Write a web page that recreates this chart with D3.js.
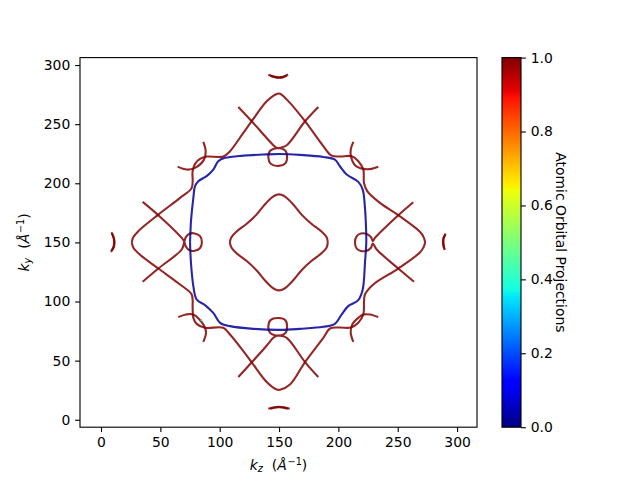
<!DOCTYPE html>
<html>
<head>
<meta charset="utf-8">
<script src="https://cdnjs.cloudflare.com/ajax/libs/d3/7.8.5/d3.min.js"></script>
<style>
  body { margin: 0; background: #fff; }
  text { font-family: "DejaVu Sans", sans-serif; fill: #000; }
</style>
</head>
<body>
<div class="js-chart"></div>
<script>
// tick labels
var xTicks = [0, 50, 100, 150, 200, 250, 300];
var yTicks = [0, 50, 100, 150, 200, 250, 300];
var cTicks = [0, 0.2, 0.4, 0.6, 0.8, 1];

// jet colormap stops
var jetStops = [0, 0.11, 0.125, 0.34, 0.35, 0.375, 0.64, 0.65, 0.66, 0.89, 0.91, 1];
var jetColors = ['#000080', '#0000ff', '#0000ff', '#00dbff', '#00e5f7', '#14ffe2', '#eeff08',
  '#f7f500', '#ffec00', '#ff1400', '#e80000', '#800000'];

// curves, [kz, ky]
var blueSquare = [
  [75,150],[75.4,160],[75.8,168],[77.8,187.7],[79.2,197.5],[82,201.8],[89,206],[94.6,211.6],[98.8,218.7],
  [104.5,221.5],[119.9,223.4],[136.7,224.3],[150.8,224.8],[167.7,224],[187.3,222.3],[197.1,220],[201.3,214.4],
  [207,207.4],[216.8,201.2],[220.5,194.7],[222.4,179.2],[223.3,162.3],[223.5,150],[222.4,132.7],[220.5,110.1],
  [216.8,101.2],[208.3,96.1],[202.7,89],[197.1,81.1],[187.3,78.6],[167.7,76.9],[150.8,76],[128.3,76.9],
  [108.7,79.2],[100.3,82],[94.6,90.4],[87.6,97],[80.6,101.7],[77.8,113],[75.8,132.7],[75,150]
];
var innerDiamond = [
  [108.5,150],[110,154.5],[114,159],[123,166],[131,173.5],[138,182],[144,188],[148,190.3],[150,190.6],
  [152,190.3],[156,188],[162,182],[169,173.5],[177,166],[186,159],[190,154.5],[191,150],[190,145.5],
  [186,141],[177,134],[169,126.5],[162,118],[156,112],[152,109.7],[150,109.4],[148,109.7],[144,112],
  [138,118],[131,126.5],[123,134],[114,141],[110,145.5],[108.5,150]
];
var outerCurve = [
  [25.9,150],[27.3,154.5],[31.4,159.5],[48.3,173.5],[66.6,187.7],[76.4,196.1],[77.2,210.2],[79.2,216.4],
  [83.4,220.6],[89,222.6],[103,222.6],[108.7,227.1],[119.9,242.6],[127,252.5],[139.6,269.3],[148,275.6],
  [150.8,275.8],[159.2,268],[171.9,252.5],[187.3,231.4],[194.3,223.4],[201.3,222.6],[211.2,222.9],[216.8,218.7],
  [221,211.6],[221.6,200.3],[224.3,193.3],[235,183.4],[250.5,173],[268.7,159],[271.8,154.5],[273,150],
  [271.8,146],[268.7,141.5],[250.5,127.9],[229.4,114.4],[222.4,105.9],[221.6,100.3],[221,89],[216.8,82],
  [210.4,78],[201.3,78],[192.9,77.2],[187.3,69.3],[171.9,48.8],[159.2,29.8],[150.8,25.4],[148,25.6],
  [139.6,31.9],[127,48.6],[119.9,58.1],[108.7,72.1],[103,77.8],[87.6,77.8],[80.6,81.1],[77.8,86.2],
  [77.2,94.7],[76.4,105.9],[66.6,114.4],[48.3,127.9],[32.9,139.5],[27.3,145.5],[25.9,150]
];
var topLoop = [
  [115.7,264.6],[127,252.5],[139,239],[145.2,232.2],[148,230],[152,229.5],[155.5,227.5],[156.8,222.5],
  [155.5,217],[149.5,214.7],[143,216.5],[141,222],[142.5,227.5],[146.5,229.5],[151,230],[156.5,232.2],
  [171.9,252.5],[183.1,264.6]
];
var bottomLoop = [
  [115.7,36.1],[127,48.6],[139,62],[145.2,69.3],[148,71],[152,71.5],[155.5,73.5],[156.8,78.5],
  [155.5,84],[149.5,86],[143,84.5],[141,79],[142.5,73.5],[146.5,71.5],[151,71],[156.5,69.3],
  [171.9,48.8],[183.1,36.1]
];
var leftLoop = [
  [35.1,184.3],[48.3,173],[68,153.8],[70,151],[71.5,146.5],[74.5,143.3],[79,143],[83.5,145.3],[85,150.3],
  [83.5,155.3],[79,157.6],[74.5,157.3],[71.5,154.5],[70,149.8],[68,144],[48.3,127.9],[35.1,116.7]
];
var rightLoop = [
  [263.1,184],[250.5,173],[230.8,153.8],[229,151],[227.5,154.5],[223.5,157.3],[219,157.5],[215.5,155.3],[214,150],
  [215.5,144.8],[219,142.8],[223.5,142.8],[227.5,145.5],[229,149],[232.3,144],[250.5,127.9],[263.7,116.7]
];
var arcTopLeft = [[86.2,235],[88.2,227.1],[86.8,220],[79.2,213],[72.2,211.6],[64.6,214.1]];
var arcTopRight = [[212.6,235],[210.4,228.5],[210.6,222.9],[214,215.3],[221,212.2],[228,212.2],[233.6,213.9]];
var arcBottomLeft = [[86.2,65.9],[88.5,73.5],[86.8,79.7],[77.8,89],[71.6,89],[65.1,86.8]];
var arcBottomRight = [[212.6,65.9],[210.4,73.5],[211.7,80.6],[216.8,86.2],[221,89],[226.6,89],[233.6,86.8]];
var tipTopA = [[141,291.8],[146.6,290],[150,289.6],[153.4,290],[157.6,292]];
var tipTopB = [[142.5,291],[146.6,289.6],[150,289.2],[153.4,289.6],[156.5,291]];
var tipBottomA = [[141,9.3],[146,10.6],[150,11],[154,10.6],[159,9.3]];
var tipBottomB = [[142.5,9.2],[146,10.2],[150,10.6],[154,10.2],[157.5,9.2]];
var tipLeftA = [[8.8,158.6],[10.6,154],[11,149.6],[10.4,146],[8.4,142]];
var tipLeftB = [[9.2,157.6],[11,153],[11.4,149.6],[10.8,146],[9,143]];
var tipRightA = [[290.4,157.5],[288.8,154],[288.5,150.7],[288.9,147],[289.6,143.5]];
var tipRightB = [[290,156.5],[288.4,153],[288.1,150.7],[288.5,147],[289.2,144.5]];
var speck = [[84.4,84.8],[85.2,83.6]];

var curves = [
  { points: outerCurve, value: 1 }, { points: innerDiamond, value: 1 },
  { points: topLoop, value: 1 }, { points: bottomLoop, value: 1 },
  { points: leftLoop, value: 1 }, { points: rightLoop, value: 1 },
  { points: arcTopLeft, value: 1 }, { points: arcTopRight, value: 1 },
  { points: arcBottomLeft, value: 1 }, { points: arcBottomRight, value: 1 },
  { points: tipTopA, value: 1 }, { points: tipTopB, value: 1 },
  { points: tipBottomA, value: 1 }, { points: tipBottomB, value: 1 },
  { points: tipLeftA, value: 1 }, { points: tipLeftB, value: 1 },
  { points: tipRightA, value: 1 }, { points: tipRightB, value: 1 },
  { points: blueSquare, value: 0.02 }, { points: speck, value: 0.42 }
];

var left = 80, right = 477, top_ = 57.6, bottom = 427.2;
var barLeft = 502, barRight = 521;
var fontSize = 13.9, tickLen = 4.86;

var svg = d3.select('.js-chart').append('svg')
  .attr('width', 640)
  .attr('height', 480)
  .style('display', 'block');

var x = d3.scaleLinear().domain([-17.7, 316.8]).range([left, right]);
var y = d3.scaleLinear().domain([-6.3, 306.3]).range([bottom, top_]);
var c = d3.scaleLinear().domain([0, 1]).range([bottom, top_]);
var jet = d3.scaleLinear().domain(jetStops).range(jetColors);

var line = d3.line()
  .x(function(d) { return x(d[0]); })
  .y(function(d) { return y(d[1]); })
  .curve(d3.curveCatmullRom.alpha(0.5));

svg.selectAll('path.curve')
  .data(curves)
  .enter()
  .append('path')
  .classed('curve', true)
  .attr('d', function(d) { return line(d.points); })
  .attr('fill', 'none')
  .attr('stroke', function(d) { return jet(d.value); })
  .attr('stroke-opacity', 0.85)
  .attr('stroke-width', 2.1);

function styleAxis(g) {
  g.selectAll('.domain').remove();
  g.selectAll('line').attr('stroke', '#000').attr('stroke-width', 1.11);
  g.selectAll('text').style('font-size', fontSize + 'px').attr('fill', '#000');
}

svg.append('g')
  .attr('transform', 'translate(0,' + bottom + ')')
  .call(d3.axisBottom(x).tickValues(xTicks).tickSize(tickLen).tickPadding(4.86))
  .call(styleAxis);

svg.append('g')
  .attr('transform', 'translate(' + left + ',0)')
  .call(d3.axisLeft(y).tickValues(yTicks).tickSize(tickLen).tickPadding(4.86))
  .call(styleAxis);

svg.append('rect')
  .attr('x', left)
  .attr('y', top_)
  .attr('width', right - left)
  .attr('height', bottom - top_)
  .attr('fill', 'none')
  .attr('stroke', '#000')
  .attr('stroke-width', 1.11);

// colorbar
var defs = svg.append('defs');
var gradient = defs.append('linearGradient')
  .attr('id', 'jet')
  .attr('x1', 0).attr('y1', 1)
  .attr('x2', 0).attr('y2', 0);

gradient.selectAll('stop')
  .data(jetStops)
  .enter()
  .append('stop')
  .attr('offset', function(d) { return d; })
  .attr('stop-color', function(d, i) { return jetColors[i]; });

svg.append('rect')
  .attr('x', barLeft)
  .attr('y', top_)
  .attr('width', barRight - barLeft)
  .attr('height', bottom - top_)
  .attr('fill', 'url(#jet)')
  .attr('stroke', '#000')
  .attr('stroke-width', 1.11);

svg.append('g')
  .attr('transform', 'translate(' + barRight + ',0)')
  .call(d3.axisRight(c).tickValues(cTicks).tickFormat(d3.format('.1f')).tickSize(tickLen).tickPadding(4.86))
  .call(styleAxis);

// axis labels
function mathLabel(sel, sub) {
  sel.append('tspan').attr('font-style', 'italic').text('k');
  sel.append('tspan').attr('font-style', 'italic').attr('font-size', 9.7).attr('dy', 2).text(sub);
  sel.append('tspan').attr('dy', -2).attr('dx', 9).text('(');
  sel.append('tspan').attr('font-style', 'italic').text('Å');
  sel.append('tspan').attr('font-size', 9.7).attr('dy', -5.5).attr('dx', 0.8).text('−1');
  sel.append('tspan').attr('dy', 5.5).text(')');
}

svg.append('text')
  .attr('x', (left + right) / 2)
  .attr('y', 470)
  .attr('text-anchor', 'middle')
  .style('font-size', fontSize + 'px')
  .call(mathLabel, 'z');

svg.append('text')
  .attr('transform', 'translate(29,' + (top_ + bottom) / 2 + ') rotate(-90)')
  .attr('text-anchor', 'middle')
  .style('font-size', fontSize + 'px')
  .call(mathLabel, 'y');

svg.append('text')
  .attr('transform', 'translate(556,' + (top_ + bottom) / 2 + ') rotate(90)')
  .attr('text-anchor', 'middle')
  .style('font-size', fontSize + 'px')
  .text('Atomic Orbital Projections');
</script>
</body>
</html>
